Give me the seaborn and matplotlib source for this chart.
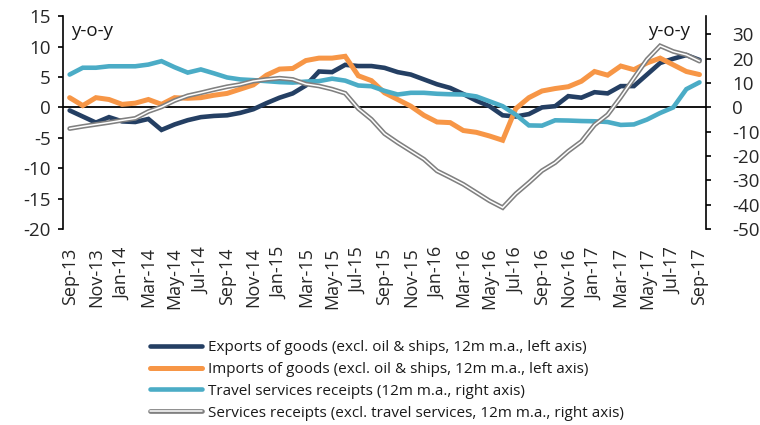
import matplotlib
matplotlib.use("Agg")
import matplotlib.pyplot as plt
import matplotlib.patheffects as pe
import numpy as np
import pandas as pd
import seaborn as sns

# Monthly observations, Sep-13 .. Sep-17
months = pd.date_range("2013-09-01", "2017-09-01", freq="MS")

exports_goods = [-0.5, -1.5, -2.5, -1.6, -2.3, -2.4, -1.9, -3.7, -2.8, -2.1,
                 -1.6, -1.4, -1.3, -0.9, -0.3, 0.7, 1.6, 2.3, 3.6, 5.9,
                 5.8, 7.0, 6.8, 6.8, 6.5, 5.8, 5.4, 4.6, 3.8, 3.2,
                 2.2, 1.1, 0.2, -1.3, -1.5, -1.1, 0.0, 0.2, 1.85, 1.6,
                 2.5, 2.3, 3.5, 3.5, 5.4, 7.3, 8.0, 8.6, 7.8]

imports_goods = [1.6, 0.3, 1.6, 1.3, 0.5, 0.7, 1.3, 0.5, 1.6, 1.5,
                 1.6, 2.0, 2.3, 3.0, 3.7, 5.3, 6.3, 6.4, 7.7, 8.1,
                 8.1, 8.4, 5.2, 4.4, 2.4, 1.3, 0.2, -1.3, -2.4, -2.5,
                 -3.8, -4.1, -4.7, -5.4, -0.2, 1.6, 2.7, 3.1, 3.4, 4.3,
                 5.9, 5.3, 6.8, 6.2, 7.3, 8.1, 7.0, 5.9, 5.4]

travel_receipts = [13.5, 16.3, 16.3, 16.9, 16.9, 16.9, 17.6, 19.0, 16.5, 14.3,
                   15.6, 14.0, 12.3, 11.5, 11.2, 10.8, 10.4, 10.2, 10.6, 10.8,
                   11.8, 11.0, 9.0, 8.7, 6.8, 5.3, 6.0, 6.0, 5.6, 5.4,
                   5.3, 4.5, 2.5, 0.5, -3.0, -7.4, -7.5, -5.3, -5.4, -5.6,
                   -5.7, -6.0, -7.2, -7.0, -5.0, -2.3, 0.0, 7.5, 10.3]

services_receipts = [-8.7, -7.8, -7.0, -6.2, -5.3, -4.5, -1.7, 0.2, 2.8, 4.8,
                     6.0, 7.3, 8.5, 9.4, 10.8, 11.5, 12.0, 11.5, 9.6, 8.8,
                     7.5, 5.8, -0.5, -4.9, -10.8, -14.5, -17.9, -21.3, -26.1, -28.8,
                     -31.6, -35.0, -38.4, -41.2, -35.5, -30.9, -26.0, -22.7, -18.0, -14.0,
                     -7.2, -3.0, 4.2, 12.0, 19.7, 25.3, 23.0, 21.6, 19.0]

series_labels = [
    "Exports of goods (excl. oil & ships, 12m m.a., left axis)",
    "Imports of goods (excl. oil & ships, 12m m.a., left axis)",
    "Travel services receipts (12m m.a., right axis)",
    "Services receipts (excl. travel services, 12m m.a., right axis)",
]

left_ticks = [-20, -15, -10, -5, 0, 5, 10, 15]
right_ticks = [-50, -40, -30, -20, -10, 0, 10, 20, 30]

NAVY = "#243f63"
ORANGE = "#f79646"
TEAL = "#4bacc6"
GREY = "#808080"

sns.set_theme(style="white")
plt.rcParams["font.family"] = ["Open Sans", "DejaVu Sans"]
plt.rcParams["text.color"] = "#1a1a1a"

df = pd.DataFrame({
    "t": np.arange(len(months)),
    "exports": exports_goods,
    "imports": imports_goods,
    "travel": travel_receipts,
    "services": services_receipts,
})

fig = plt.figure(figsize=(7.6, 4.25), dpi=100)
ax = fig.add_axes([0.083, 0.461, 0.846, 0.501])
ax2 = ax.twinx()

sns.lineplot(data=df, x="t", y="exports", ax=ax, color=NAVY, lw=3.3,
             solid_joinstyle="miter", label=series_labels[0], legend=False)
sns.lineplot(data=df, x="t", y="imports", ax=ax, color=ORANGE, lw=3.6,
             solid_joinstyle="miter", label=series_labels[1], legend=False)
sns.lineplot(data=df, x="t", y="travel", ax=ax2, color=TEAL, lw=3.3,
             solid_joinstyle="miter", label=series_labels[2], legend=False)
sns.lineplot(data=df, x="t", y="services", ax=ax2, color="white", lw=1.1,
             solid_joinstyle="miter", label=series_labels[3], legend=False,
             path_effects=[pe.Stroke(linewidth=3.4, foreground=GREY), pe.Normal()])

ax.axhline(0, color="black", lw=1.3, zorder=1)

ax.set_xlim(-0.5, len(months) - 0.5)
ax.set_ylim(-20, 15)
ax2.set_ylim(-50, 37.5)
ax.set_yticks(left_ticks)
ax2.set_yticks(right_ticks)
ax.set_yticklabels([str(v) for v in left_ticks])
ax2.set_yticklabels([str(v) for v in right_ticks])

tick_pos = df["t"].values[::2]
tick_lab = [m.strftime("%b-%y") for m in months[::2]]
ax.set_xticks(tick_pos)
ax.set_xticklabels(tick_lab, rotation=90)

for a in (ax, ax2):
    a.set_xlabel("")
    a.set_ylabel("")
    a.spines["top"].set_visible(False)
    a.spines["bottom"].set_visible(False)
    for s in ("left", "right"):
        a.spines[s].set_color("black")
        a.spines[s].set_linewidth(1.2)
ax.spines["right"].set_visible(False)
ax2.spines["left"].set_visible(False)

ax.tick_params(axis="y", which="both", left=True, direction="out", length=3.8,
               width=1.2, color="black", labelsize=13.5, pad=5)
ax2.tick_params(axis="y", which="both", right=True, direction="out", length=3.8,
                width=1.2, color="black", labelsize=13.5, pad=15)
ax.tick_params(axis="x", bottom=False, labelsize=13, pad=7)

ax.text(0.012, 0.93, "y-o-y", transform=ax.transAxes, fontsize=13.5,
        ha="left", va="center")
ax2.text(0.975, 0.93, "y-o-y", transform=ax2.transAxes, fontsize=13.5,
         ha="right", va="center")

handles = [h for h in ax.get_lines() if h.get_label() in series_labels] + \
          [h for h in ax2.get_lines() if h.get_label() in series_labels]
fig.legend(handles, series_labels, loc="upper left",
           bbox_to_anchor=(0.198, 0.2), frameon=False, fontsize=11.0,
           handlelength=3.4, handletextpad=0.35, labelspacing=0.45,
           borderaxespad=0, borderpad=0)

fig.savefig("out.png", dpi=100)
